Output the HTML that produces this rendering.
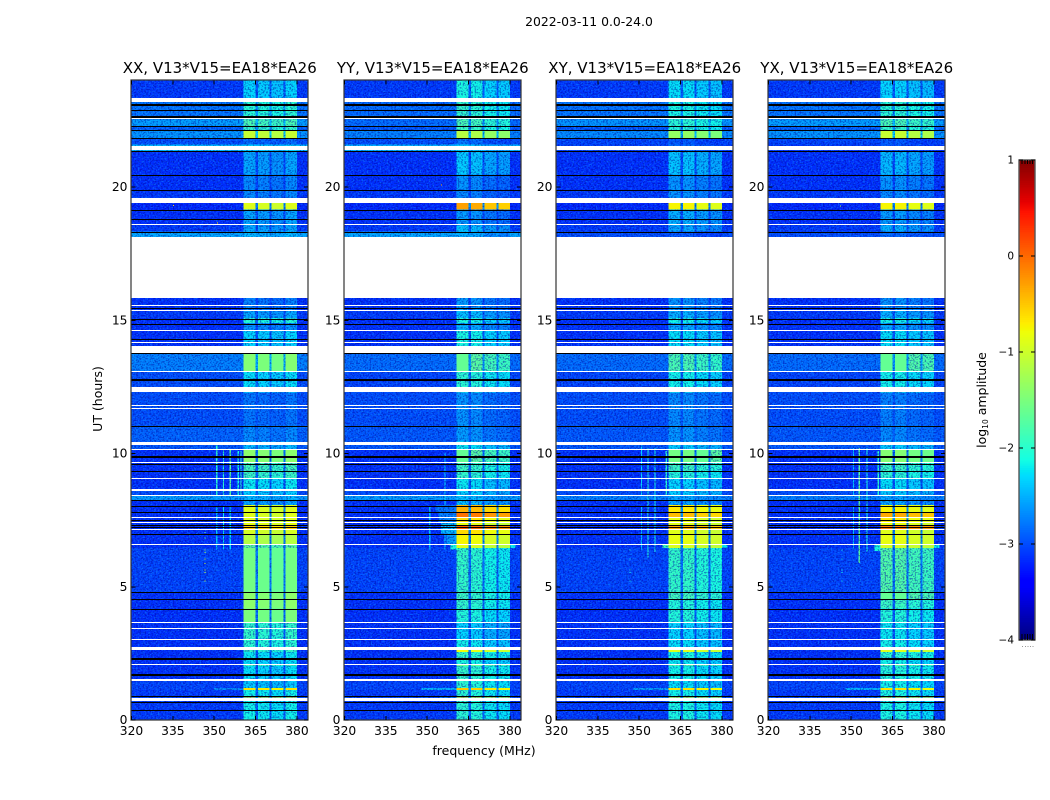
<!DOCTYPE html>
<html>
<head>
<meta charset="utf-8">
<title>2022-03-11 spectrograms</title>
<style>
html,body{margin:0;padding:0;background:#fff;}
svg{display:block;}
text{font-family:"DejaVu Sans","Liberation Sans",sans-serif;fill:#000;}
.tick{font-size:12.3px;}
.title{font-size:15px;text-anchor:middle;}
.label{font-size:12.5px;text-anchor:middle;}
</style>
</head>
<body>
<svg id="figure" xmlns="http://www.w3.org/2000/svg" width="1050" height="800" viewBox="0 0 1050 800">
  <defs>
    <filter id="speck-light" x="0" y="0" width="100%" height="100%" color-interpolation-filters="sRGB">
      <feTurbulence type="fractalNoise" baseFrequency="0.55 0.7" numOctaves="1" seed="4"/>
      <feColorMatrix type="matrix" values="0 0 0 0 0.1  0 0 0 0 0.75  0 0 0 0 1  6 0 0 0 -3.0"/>
    </filter>
    <filter id="speck-dark" x="0" y="0" width="100%" height="100%" color-interpolation-filters="sRGB">
      <feTurbulence type="fractalNoise" baseFrequency="0.6 0.65" numOctaves="1" seed="11"/>
      <feColorMatrix type="matrix" values="0 0 0 0 0  0 0 0 0 0  0 0 0 0 0.6  0 6 0 0 -2.9"/>
    </filter>
  </defs>
  <text x="589" y="26" text-anchor="middle" style="font-size:12.4px">2022-03-11 0.0-24.0</text>
  <text class="label" x="484" y="755">frequency (MHz)</text>
  <text class="label" transform="translate(102 399) rotate(-90)">UT (hours)</text>
  <text class="label" transform="translate(986 400) rotate(-90)">log<tspan font-size="7.5" dy="2">10</tspan><tspan dy="-2"> amplitude</tspan></text>
  <g id="panels"></g>
  <g id="colorbar"></g>
</svg>
<script>
// ---- Data ----
const panelNames = ['XX', 'YY', 'XY', 'YX'];
const panelSuffix = ', V13*V15=EA18*EA26';
const freqTicks = [320, 335, 350, 365, 380];
const hourTicks = [0, 5, 10, 15, 20];
const colorbarTicks = [-4, -3, -2, -1, 0, 1];

// frequency bin edges (MHz) and what each bin holds
const freqEdges = [320, 360.6, 365, 365.8, 370, 370.8, 375.2, 375.9, 380, 384];
const freqRoles = ['bg', 'b0', 'gap', 'b1', 'gap', 'b2', 'gap', 'b3', 'bg'];

// time bin edges (UT hours)
const rowEdges = [24.00,23.21,22.54,22.28,22.13,21.84,21.60,21.34,20.48,19.88,19.40,19.16,18.56,18.34,18.12,15.83,15.38,15.08,14.89,14.63,14.04,13.76,13.09,12.50,12.30,11.06,10.46,10.16,9.68,9.34,9.08,8.59,8.40,8.25,8.06,7.80,7.61,7.43,7.31,7.16,6.98,6.60,6.45,4.80,4.54,4.20,3.68,3.04,2.63,2.55,2.29,2.10,2.03,1.54,1.20,1.13,0.90,0.84,0.38,0];

// log10 amplitude of the out-of-band background, per time bin
const bgXX = [-3.1,-2.8,-2.6,-2.9,-2.65,-3.0,-2.45,-3.15,-3.15,-3.1,-3.2,-3.15,-3.1,-2.55,-3.15,-3.15,-3.1,-3.15,-3.15,-3.15,-3.15,-2.75,-3.0,-3.0,-3.0,-2.9,-2.95,-3.15,-3.15,-3.15,-3.15,-3.0,-2.6,-3.15,-3.15,-3.15,-3.15,-3.15,-3.15,-3.15,-3.15,-3.15,-3.05,-3.15,-3.15,-3.15,-3.15,-3.15,-3.15,-3.15,-3.15,-3.15,-3.15,-3.05,-3.05,-3.1,-2.95,-3.1,-3.1];
const bgYY = [-3.1,-2.85,-2.85,-2.95,-2.75,-3.0,-2.5,-3.15,-3.15,-3.1,-3.2,-3.15,-3.1,-2.55,-3.15,-3.15,-3.1,-3.15,-3.15,-3.15,-3.15,-2.85,-3.05,-3.0,-3.0,-2.95,-2.95,-3.15,-3.15,-3.15,-3.15,-3.0,-2.6,-3.15,-3.15,-3.15,-3.15,-3.15,-3.15,-3.15,-3.15,-3.15,-3.05,-3.15,-3.15,-3.15,-3.15,-3.15,-3.15,-3.15,-3.15,-3.15,-3.15,-3.05,-3.05,-3.1,-2.95,-3.1,-3.1];
const bgXY = [-3.1,-2.8,-2.65,-2.95,-2.7,-3.05,-3.05,-3.15,-3.15,-3.1,-3.2,-3.15,-3.1,-3.0,-3.15,-3.15,-3.1,-3.15,-3.15,-3.15,-3.15,-2.85,-3.05,-3.0,-3.0,-2.95,-2.95,-3.15,-3.15,-3.15,-3.15,-3.0,-2.75,-3.15,-3.15,-3.15,-3.15,-3.15,-3.15,-3.15,-3.15,-3.15,-3.05,-3.15,-3.15,-3.15,-3.15,-3.15,-3.15,-3.15,-3.15,-3.15,-3.15,-3.05,-3.05,-3.1,-2.95,-3.1,-3.1];
const bgYX = [-3.1,-2.8,-2.6,-2.9,-2.65,-3.05,-3.1,-3.15,-3.15,-3.1,-3.2,-3.15,-3.1,-3.0,-3.15,-3.15,-3.1,-3.15,-3.15,-3.15,-3.15,-2.85,-3.05,-3.0,-3.0,-2.95,-2.95,-3.15,-3.15,-3.15,-3.15,-3.0,-2.75,-3.15,-3.15,-3.15,-3.15,-3.15,-3.15,-3.15,-3.15,-3.15,-3.05,-3.15,-3.15,-3.15,-3.15,-3.15,-3.15,-3.15,-3.15,-3.15,-3.15,-3.05,-3.05,-3.1,-2.95,-3.1,-3.1];

// log10 amplitude inside the four bright sub-bands, per time bin
const blockXX = [-2.35,-2.05,-1.85,-2.0,-1.1,-2.9,-2.4,-2.6,-2.75,-2.75,-0.95,-2.6,-2.6,-2.5,-2.8,-2.8,-2.6,-2.1,-2.7,-2.35,-1.9,-1.5,-2.3,-2.3,-2.85,-2.75,-2.5,-1.45,-1.9,-1.95,-2.25,-2.4,-2.5,-2.6,-0.95,-0.95,-0.95,-0.9,-0.6,-1.0,-1.2,-1.75,-1.6,-1.45,-1.45,-1.55,-2.0,-2.05,-2.0,-2.25,-2.3,-1.9,-2.3,-2.4,-0.7,-2.2,-0.3,-2.2,-2.2];
const blockYY = [-2.2,-2.05,-1.9,-2.0,-1.25,-2.9,-2.45,-2.45,-2.75,-2.8,-0.4,-2.7,-2.5,-2.6,-2.8,-2.7,-2.5,-2.2,-2.6,-2.2,-1.7,-1.75,-2.1,-2.2,-2.75,-2.7,-2.3,-1.75,-2.0,-2.05,-2.3,-2.4,-2.5,-2.5,-0.5,-0.15,-0.7,-0.95,-0.05,-0.7,-0.85,-1.0,-2.05,-2.0,-2.05,-2.15,-2.4,-2.25,-0.9,-2.05,-2.2,-1.7,-2.05,-2.1,-0.6,-2.1,-0.4,-2.1,-2.1];
const blockXY = [-2.3,-2.15,-2.05,-2.1,-1.4,-3.0,-2.9,-2.45,-2.7,-2.7,-0.8,-2.55,-2.6,-3.0,-2.8,-2.7,-2.55,-2.2,-2.6,-2.3,-1.8,-1.85,-2.2,-2.2,-2.75,-2.7,-2.4,-1.6,-1.95,-2.1,-2.35,-2.4,-2.6,-2.6,-0.75,-0.5,-0.9,-0.95,-0.4,-0.95,-0.9,-1.0,-2.0,-1.9,-2.1,-2.1,-2.35,-2.3,-0.95,-2.15,-2.25,-1.8,-2.2,-2.3,-0.7,-2.2,-0.45,-2.15,-2.15];
const blockYX = [-2.35,-2.05,-1.85,-2.0,-1.1,-3.0,-3.0,-2.5,-2.7,-2.75,-0.8,-2.65,-2.55,-2.9,-2.8,-2.7,-2.55,-2.2,-2.6,-2.3,-1.75,-1.7,-2.2,-2.2,-2.8,-2.75,-2.4,-1.5,-1.95,-2.05,-2.3,-2.4,-2.6,-2.6,-0.8,-0.4,-0.75,-0.9,-0.15,-0.95,-0.9,-1.0,-1.8,-1.7,-1.95,-2.1,-2.25,-2.2,-0.95,-2.05,-2.2,-1.8,-2.1,-2.2,-0.7,-2.15,-0.4,-2.15,-2.15];

// sub-band offsets per panel
const trimXX = [0.05, 0, -0.05, 0.05];
const trimYY = [0.1, 0.05, -0.1, -0.15];
const trimXY = [0.05, 0.05, -0.05, -0.1];
const trimYX = [0.05, 0.05, -0.05, -0.1];

// flagged time spans (UT hours)
const whiteSpans = [[23.33,23.20],[22.59,22.54],[21.53,21.40],[19.58,19.40],[18.60,18.56],[18.12,15.83],[15.59,15.55],[15.39,15.36],[14.63,14.60],[14.18,14.14],[14.04,13.79],[13.10,13.06],[12.50,12.30],[11.82,11.78],[11.72,11.68],[10.45,10.31],[10.17,10.13],[9.68,9.65],[9.08,9.05],[8.66,8.60],[8.44,8.40],[7.61,7.57],[7.43,7.40],[7.17,7.13],[6.61,6.57],[3.68,3.65],[3.47,3.43],[3.05,3.01],[2.74,2.63],[2.11,2.07],[1.54,1.47],[0.84,0.71]];
const blackSpans = [[23.10,23.06],[22.88,22.84],[22.65,22.61],[22.28,22.24],[22.13,22.09],[21.86,21.80],[21.34,21.30],[20.45,20.41],[19.88,19.84],[19.15,19.11],[18.81,18.77],[18.33,18.29],[15.46,15.42],[15.06,15.02],[14.88,14.84],[14.31,14.27],[13.76,13.72],[12.78,12.74],[11.05,11.01],[9.89,9.85],[9.60,9.56],[9.33,9.29],[8.25,8.21],[8.05,8.01],[7.80,7.76],[7.49,7.45],[7.31,7.27],[7.23,7.19],[6.99,6.95],[4.79,4.75],[4.55,4.51],[4.18,4.12],[2.31,2.25],[1.71,1.67],[0.89,0.85],[0.66,0.62],[0.36,0.32]];

// interference patches: panel, freq start, freq end, hour start, hour end, level
const rfiPatches = [
 [0,350.6,351.2,10.3,8.44,-2.0],[0,350.6,351.2,8.0,6.4,-2.4],[0,353.1,353.5,10.15,8.44,-2.0],[0,353.1,353.5,8.0,6.4,-2.2],[0,355.6,356,10.15,8.44,-1.7],[0,355.6,356,8.0,6.4,-2.3],[0,358.5,358.9,10.1,8.44,-2.1],[0,359.5,359.9,10.1,8.44,-2.0],
 [1,350.7,351.1,8.0,6.4,-2.4],[1,356.2,356.6,10.0,6.4,-2.3],[1,353,360.6,8.06,7.8,-2.8],[1,354,360.6,7.8,7.43,-2.75],[1,355,360.6,7.43,7.0,-2.45],[1,357,360.6,7.0,6.6,-2.6],[1,358.5,360.6,6.6,6.4,-2.1],[1,380,382,6.6,6.45,-2.2],
 [2,350.6,351,10.3,8.44,-2.3],[2,353,353.4,10.2,6.1,-2.05],[2,355.5,355.9,10.2,6.3,-2.1],[2,359.6,360,10.1,8.44,-2.0],[2,350.6,351,8.0,6.4,-2.4],[2,358.5,360.6,6.6,6.45,-1.9],[2,380,382,6.6,6.45,-2.2],
 [3,350.6,351,10.2,8.44,-2.4],[3,352.7,353.1,10.2,5.9,-1.7],[3,355.5,355.9,10.2,6.3,-2.1],[3,359.6,360,10.1,8.44,-2.0],[3,350.6,351,8.0,6.4,-2.4],[3,358.5,360.6,6.6,6.35,-2.1],[3,380,382,6.6,6.45,-2.2],
 [0,350,360.6,1.2,1.13,-2.7],[1,348,360.6,1.2,1.13,-2.5],[2,348,360.6,1.2,1.13,-2.6],[3,348,360.6,1.2,1.13,-2.5],[1,354,360.6,0.9,0.84,-2.5],[3,356,360.6,0.9,0.84,-2.5],[2,356,360.6,0.9,0.84,-2.5]
];

// isolated bright samples: panel, freq, hour, level
const spotSamples = [
 [0,346.5,7.06,-1.6],[0,346.5,6.85,-1.6],[0,346.5,6.40,-1.2],[0,346.5,6.31,-1.2],[0,346.5,6.06,-1.0],[0,346.5,5.90,-1.0],[0,346.5,5.65,-1.0],[0,346.5,5.56,-1.0],[0,346.5,5.24,-1.0],[0,335,19.33,-0.6],[0,351,18.68,-0.7],
 [1,355,20.1,-0.3],
 [2,346.5,6.40,-2.1],[2,346.5,6.06,-2.1],[2,346.5,5.65,-2.1],[2,346.5,5.56,-2.1],[2,346.5,5.24,-2.1],[2,351,18.7,-1.5],
 [3,346.5,6.40,-2.1],[3,346.5,6.06,-2.1],[3,346.5,5.65,-2.1],[3,346.5,5.56,-2.1],[3,346.5,5.24,-2.1],[3,346,19.3,-1.2]
];

const bgByPanel = [bgXX, bgYY, bgXY, bgYX];
const blockByPanel = [blockXX, blockYY, blockXY, blockYX];
const trimByPanel = [trimXX, trimYY, trimXY, trimYX];

// ---- Layout and scales ----
const SVGNS = 'http://www.w3.org/2000/svg';
const panelLefts = [131.5, 344.5, 556.5, 768.5];
const panelWidth = 176.5;
const plotTop = 80.5;
const plotBottom = 720;
const freqMin = 320;
const freqMax = 384;
const hourMax = 24;
const smoothAbove = -1.7; // bright sub-bands are smooth, not grainy, above this level

function xScale(left, f) { return left + (f - freqMin) / (freqMax - freqMin) * panelWidth; }
function yScale(h) { return plotBottom - h / hourMax * (plotBottom - plotTop); }

const jetR = [[0,0],[0.35,0],[0.66,1],[0.89,1],[1,0.5]];
const jetG = [[0,0],[0.125,0],[0.375,1],[0.64,1],[0.91,0],[1,0]];
const jetB = [[0,0.5],[0.11,1],[0.34,1],[0.65,0],[1,0]];
function lerpStops(stops, p) {
  for (let i = 1; i < stops.length; i++) {
    if (p <= stops[i][0]) {
      const a = stops[i - 1], b = stops[i];
      return a[1] + (b[1] - a[1]) * (p - a[0]) / (b[0] - a[0]);
    }
  }
  return stops[stops.length - 1][1];
}
function colorOf(level) {
  const p = Math.max(0, Math.min(1, (level + 4) / 5));
  const r = Math.round(255 * lerpStops(jetR, p));
  const g = Math.round(255 * lerpStops(jetG, p));
  const b = Math.round(255 * lerpStops(jetB, p));
  return 'rgb(' + r + ',' + g + ',' + b + ')';
}
function makeEl(tag, parent) {
  const el = document.createElementNS(SVGNS, tag);
  parent.appendChild(el);
  return el;
}
function setRect(el, x, y, w, h, fill) {
  el.setAttribute('x', x);
  el.setAttribute('y', y);
  el.setAttribute('width', w);
  el.setAttribute('height', h);
  el.setAttribute('fill', fill);
  el.setAttribute('shape-rendering', 'crispEdges');
}
function setLine(el, x1, y1, x2, y2, stroke) {
  el.setAttribute('x1', x1);
  el.setAttribute('y1', y1);
  el.setAttribute('x2', x2);
  el.setAttribute('y2', y2);
  el.setAttribute('stroke', stroke);
  el.setAttribute('stroke-width', 1);
  el.setAttribute('shape-rendering', 'crispEdges');
}
function spanRect(el, left, s, fill) {
  const y0 = Math.round(yScale(s[0]));
  const y1 = Math.max(y0 + 1, Math.round(yScale(s[1])));
  setRect(el, left, y0, panelWidth, y1 - y0, fill);
}

// ---- Panels ----
const panelsRoot = document.getElementById('panels');
panelNames.forEach(function (name, pi) {
  const left = panelLefts[pi];
  const right = left + panelWidth;
  const g = makeEl('g', panelsRoot);
  
  

  const title = makeEl('text', g);
  
  
  title.setAttribute('class', 'title');
  title.setAttribute('x', left + panelWidth / 2);
  title.setAttribute('y', 73);
  title.textContent = name + panelSuffix;

  // heatmap cells; the brightest are held back and drawn above the grain
  const smoothCells = [];
  for (let r = 0; r < rowEdges.length - 1; r++) {
    const y0 = yScale(rowEdges[r]);
    const y1 = yScale(rowEdges[r + 1]);
    const bg = bgByPanel[pi][r];
    const block = blockByPanel[pi][r];
    for (let c = 0; c < freqRoles.length; c++) {
      const role = freqRoles[c];
      let level = bg;
      if (role === 'gap') level = bg + 0.2 * (block - bg);
      else if (role !== 'bg') level = block + trimByPanel[pi][Number(role[1])];
      const x0 = xScale(left, freqEdges[c]);
      const x1 = xScale(left, freqEdges[c + 1]);
      if (role[0] === 'b' && role !== 'bg' && level > smoothAbove) {
        smoothCells.push([x0, y0, x1 - x0, y1 - y0, level]);
        continue;
      }
      const cell = makeEl('rect', g);
      
      
      setRect(cell, x0, y0, x1 - x0, y1 - y0, colorOf(level));
    }
  }

  // interference patches
  rfiPatches.forEach(function (d) {
    if (d[0] !== pi) return;
    const patch = makeEl('rect', g);
    
    
    const x0 = xScale(left, d[1]);
    setRect(patch, x0, yScale(d[3]), Math.max(1, xScale(left, d[2]) - x0), yScale(d[4]) - yScale(d[3]), colorOf(d[5]));
  });

  // grain overlay
  const light = makeEl('rect', g);
  
  
  setRect(light, left, plotTop, panelWidth, plotBottom - plotTop, '#fff');
  light.setAttribute('filter', 'url(#speck-light)');
  light.setAttribute('opacity', '0.3');
  const dark = makeEl('rect', g);
  
  
  setRect(dark, left, plotTop, panelWidth, plotBottom - plotTop, '#000');
  dark.setAttribute('filter', 'url(#speck-dark)');
  dark.setAttribute('opacity', '0.45');

  // smooth bright cells
  smoothCells.forEach(function (d) {
    const hot = makeEl('rect', g);
    
    
    setRect(hot, d[0], d[1], d[2], d[3], colorOf(d[4]));
  });

  // isolated samples
  spotSamples.forEach(function (d) {
    if (d[0] !== pi) return;
    const spot = makeEl('rect', g);
    
    
    setRect(spot, xScale(left, d[1]), yScale(d[2]), 1, 1, colorOf(d[3]));
  });

  // flagged spans
  whiteSpans.forEach(function (s) {
    const gap = makeEl('rect', g);
    
    
    spanRect(gap, left, s, '#fff');
  });
  blackSpans.forEach(function (s) {
    const line = makeEl('rect', g);
    
    
    spanRect(line, left, s, '#000');
  });

  // frame
  const halo = makeEl('rect', g);
  
  
  halo.setAttribute('x', left - 0.5);
  halo.setAttribute('y', plotTop - 0.5);
  halo.setAttribute('width', panelWidth + 0.5);
  halo.setAttribute('height', plotBottom - plotTop + 0.5);
  halo.setAttribute('fill', 'none');
  halo.setAttribute('stroke', '#333');
  halo.setAttribute('stroke-width', 1.2);

  // x ticks
  freqTicks.forEach(function (f) {
    const x = xScale(left, f);
    const bottomTick = makeEl('line', g);
    
    
    setLine(bottomTick, x, plotBottom, x, plotBottom - 4, '#000');
    const topTick = makeEl('line', g);
    
    
    setLine(topTick, x, plotTop, x, plotTop + 4, '#000');
    const label = makeEl('text', g);
    
    
    label.setAttribute('class', 'tick');
    label.setAttribute('x', x);
    label.setAttribute('y', 735);
    label.setAttribute('text-anchor', 'middle');
    label.textContent = f;
  });

  // y ticks
  hourTicks.forEach(function (h) {
    const y = yScale(h);
    const leftTick = makeEl('line', g);
    
    
    setLine(leftTick, left, y, left + 4, y, '#000');
    const rightTick = makeEl('line', g);
    
    
    setLine(rightTick, right - 4, y, right, y, '#000');
    const label = makeEl('text', g);
    
    
    label.setAttribute('class', 'tick');
    label.setAttribute('x', left - 4);
    label.setAttribute('y', y + 4);
    label.setAttribute('text-anchor', 'end');
    label.textContent = h;
  });
});

// ---- Colorbar ----
const cbarRoot = document.getElementById('colorbar');
const cbarLeft = 1019;
const cbarRight = 1035;
const cbarTop = 160;
const cbarBottom = 640;
const cbarMin = -4;
const cbarMax = 1;
function cbarY(v) { return cbarBottom - (v - cbarMin) / (cbarMax - cbarMin) * (cbarBottom - cbarTop); }
for (let i = 0; i < 256; i++) {
  const v0 = cbarMin + (cbarMax - cbarMin) * i / 256;
  const v1 = cbarMin + (cbarMax - cbarMin) * (i + 1) / 256;
  const band = makeEl('rect', cbarRoot);
  
  
  setRect(band, cbarLeft, cbarY(v1), cbarRight - cbarLeft, cbarY(v0) - cbarY(v1) + 0.5, colorOf(v0));
}
const cbarFrame = makeEl('rect', cbarRoot);


cbarFrame.setAttribute('x', cbarLeft);
cbarFrame.setAttribute('y', cbarTop);
cbarFrame.setAttribute('width', cbarRight - cbarLeft);
cbarFrame.setAttribute('height', cbarBottom - cbarTop);
cbarFrame.setAttribute('fill', 'none');
cbarFrame.setAttribute('stroke', '#555');
cbarFrame.setAttribute('stroke-width', 1.4);
colorbarTicks.forEach(function (v) {
  const y = cbarY(v);
  const tickL = makeEl('line', cbarRoot);
  
  
  setLine(tickL, cbarLeft, y, cbarLeft + 4, y, '#000');
  const tickR = makeEl('line', cbarRoot);
  
  
  setLine(tickR, cbarRight - 4, y, cbarRight, y, '#000');
  const label = makeEl('text', cbarRoot);
  
  
  label.setAttribute('class', 'tick');
  label.setAttribute('x', 1014);
  label.setAttribute('y', y + 3.5);
  label.setAttribute('text-anchor', 'end');
  label.setAttribute('style', 'font-size:10.5px');
  label.textContent = v < 0 ? '\u2212' + Math.abs(v) : String(v);
});
[0.14, 0.3, 0.46, 0.62, 0.78].forEach(function (frac) {
  const topMark = makeEl('line', cbarRoot);
  
  
  const x = cbarLeft + (cbarRight - cbarLeft) * frac + 1;
  setLine(topMark, x, cbarTop, x, cbarTop + 4, '#000');
  const botMark = makeEl('line', cbarRoot);
  
  
  setLine(botMark, x, cbarBottom - 6, x, cbarBottom, '#000');
  const dot = makeEl('rect', cbarRoot);
  
  
  setRect(dot, x, 646, 1, 1, '#999');
});
</script>
</body>
</html>
